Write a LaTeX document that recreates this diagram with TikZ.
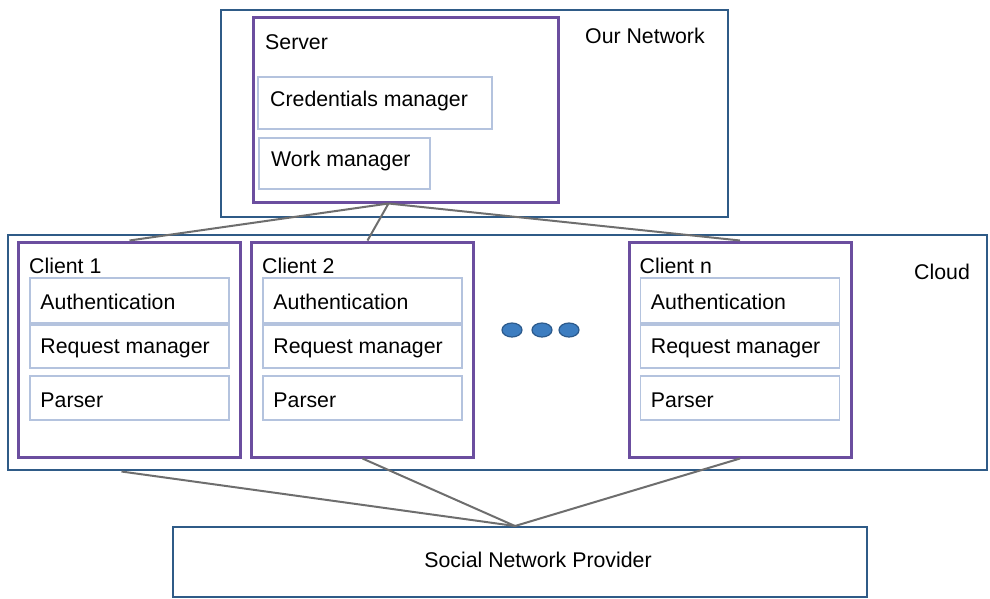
\documentclass[tikz,border=0pt]{standalone}
\usepackage{fontspec}
\setmainfont{Liberation Sans}
\usetikzlibrary{calc,shapes.geometric}
\definecolor{frameblue}{HTML}{2F5B87}
\definecolor{boxpurple}{HTML}{6B4E9F}
\definecolor{partedge}{HTML}{B4C3DE}
\definecolor{wiregray}{HTML}{6E6E6E}
\definecolor{dotfill}{HTML}{3D7DC0}
\definecolor{dotedge}{HTML}{2C5A8C}
\tikzset{
  zone/.style={draw=frameblue, line width=2pt, fill=white, inner sep=0pt},
  unit/.style={draw=boxpurple, line width=3pt, fill=white, inner sep=0pt},
  part/.style={draw=partedge, line width=1.5pt, fill=white, inner sep=0pt},
  caption/.style={anchor=west, inner sep=0pt},
  wire/.style={draw=wiregray, line width=2pt},
  dotmark/.style={ellipse, draw=dotedge, fill=dotfill, line width=1.2pt,
    minimum width=20pt, minimum height=14pt, inner sep=0pt},
}
\begin{document}
\begin{tikzpicture}[x=1pt, y=-1pt, font=\fontsize{21.3}{25}\selectfont]
\useasboundingbox (0,0) rectangle (990,598);

% Our network with the server
\node[zone, minimum width=507pt, minimum height=207pt] (net) at (474.5,113.5) {};
\node[caption] (netlbl) at (585,36) {Our Network};
\node[unit, minimum width=305pt, minimum height=185pt] (server) at (405.5,109.5) {};
\node[caption] (serverlbl) at (265,42) {Server};
\node[part, minimum width=234pt, minimum height=52pt] (cred) at (375,103) {};
\node[caption] (credlbl) at (270,101) {Credentials manager};
\node[part, minimum width=171pt, minimum height=51pt] (work) at (344.5,163.5) {};
\node[caption] (worklbl) at (271,161) {Work manager};

% Cloud with the clients
\node[zone, minimum width=979pt, minimum height=235pt] (cloud) at (497.5,352.5) {};
\node[caption] (cloudlbl) at (914,272) {Cloud};

\foreach \id/\cx/\name in {c1/129.5/Client 1, c2/362.5/Client 2, cn/740/Client n}{
  \node[unit, minimum width=222pt, minimum height=215pt] (\id) at (\cx,349.5) {};
  \node[caption] (\id lbl) at ($(\id.west)+(12,-84)$) {\name};
  \node[part, minimum width=199pt, minimum height=45pt] (\id auth) at (\cx,300.5) {};
  \node[caption] (\id authlbl) at ($(\id auth.west)+(11,1)$) {Authentication};
  \node[part, minimum width=199pt, minimum height=43pt] (\id req) at (\cx,346.5) {};
  \node[caption] (\id reqlbl) at ($(\id req.west)+(11,2)$) {Request manager};
  \node[part, minimum width=199pt, minimum height=44pt] (\id parse) at (\cx,398) {};
  \node[caption] (\id parselbl) at ($(\id parse.west)+(11,2)$) {Parser};
}

% Ellipsis between the clients
\node[dotmark] (d1) at (512,330) {};
\node[dotmark] (d2) at (542,330) {};
\node[dotmark] (d3) at (569,330) {};

% Provider
\node[zone, minimum width=694pt, minimum height=70pt] (snp) at (520,562) {};
\node (snplbl) at (538,560) {Social Network Provider};

% Connections
\coordinate (hub) at ($(server.south)+(-17,0)$);
\draw[wire] (hub) -- (c1.north);
\draw[wire] (hub) -- ($(c2.north)+(5,0)$);
\draw[wire] (hub) -- (cn.north);
\coordinate (c1foot) at ($(c1.south)+(-8,13)$);
\coordinate (snphub) at ($(snp.north)+(-5,0)$);
\draw[wire] (c1foot) -- (snphub);
\draw[wire] (c2.south) -- (snphub);
\draw[wire] (cn.south) -- (snphub);
\end{tikzpicture}
\end{document}
